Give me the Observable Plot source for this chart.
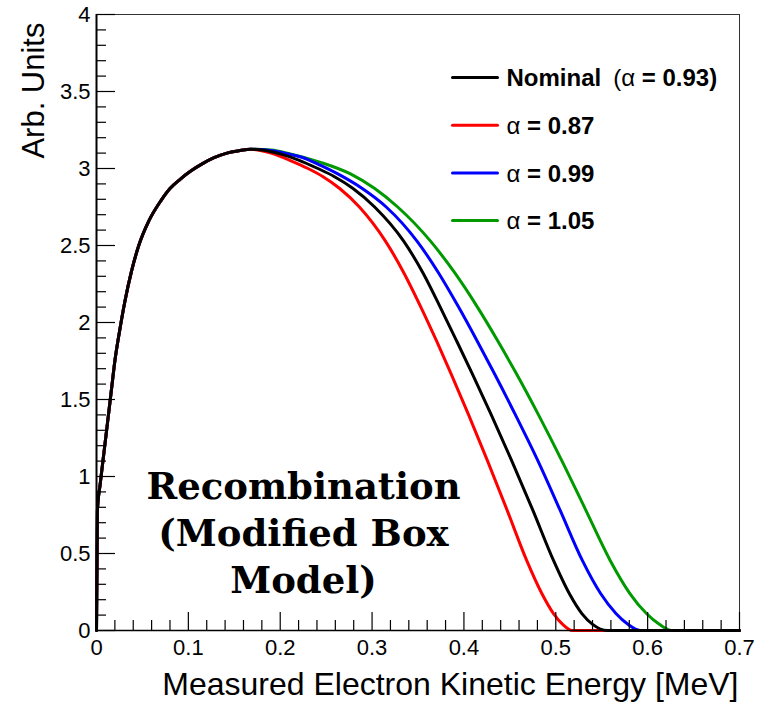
<!DOCTYPE html>
<html>
<head>
<meta charset="utf-8">
<script src="https://cdn.jsdelivr.net/npm/d3@7"></script>
<script src="https://cdn.jsdelivr.net/npm/@observablehq/plot@0.6"></script>
<style>
  html, body { margin: 0; padding: 0; background: #fff; }
  #chart { width: 762px; height: 703px; }
</style>
</head>
<body>
<div id="chart"></div>
<script>
// ---------------- data ----------------
// shared rising edge (all four curves coincide here)
const riseE = [0, 0.001, 0.004, 0.008, 0.012, 0.016, 0.020, 0.025, 0.031, 0.038, 0.046, 0.057, 0.070, 0.080, 0.091, 0.103, 0.115, 0.128, 0.142, 0.155, 0.168];
const riseY = [0, 0.78, 0.95, 1.15, 1.35, 1.55, 1.75, 1.94, 2.14, 2.33, 2.50, 2.66, 2.79, 2.87, 2.93, 2.985, 3.03, 3.07, 3.10, 3.115, 3.125];

// falling edges
const nominalE = [0.180, 0.200, 0.220, 0.241, 0.2582, 0.2793, 0.3028, 0.3342, 0.3556, 0.3742, 0.3921, 0.4089, 0.4298, 0.4522, 0.4751, 0.4975, 0.5147, 0.5284, 0.5401, 0.5561, 0.700];
const nominalY = [3.12, 3.095, 3.055, 3.00, 2.95, 2.87, 2.75, 2.53, 2.32, 2.10, 1.88, 1.67, 1.40, 1.10, 0.78, 0.455, 0.24, 0.11, 0.04, 0, 0];

const a087E = [0.190, 0.2117, 0.2302, 0.2458, 0.2648, 0.2862, 0.3144, 0.3348, 0.3531, 0.3702, 0.3858, 0.4051, 0.4258, 0.4471, 0.4683, 0.4848, 0.4975, 0.5075, 0.518, 0.700];
const a087Y = [3.10, 3.05, 3.00, 2.95, 2.87, 2.75, 2.53, 2.32, 2.10, 1.88, 1.67, 1.40, 1.10, 0.78, 0.455, 0.24, 0.11, 0.04, 0, 0];

const a099E = [0.185, 0.205, 0.225, 0.244, 0.2657, 0.2893, 0.3154, 0.3487, 0.3726, 0.3942, 0.4144, 0.433, 0.4561, 0.4807, 0.5048, 0.5289, 0.5488, 0.5655, 0.5785, 0.5918, 0.700];
const a099Y = [3.12, 3.10, 3.07, 3.02, 2.955, 2.87, 2.75, 2.53, 2.32, 2.10, 1.88, 1.67, 1.40, 1.10, 0.78, 0.455, 0.24, 0.11, 0.04, 0, 0];

const a105E = [0.190, 0.211, 0.244, 0.2765, 0.3029, 0.3279, 0.3634, 0.3903, 0.4147, 0.4369, 0.4569, 0.4812, 0.5068, 0.5328, 0.5592, 0.5807, 0.5987, 0.6127, 0.626, 0.700];
const a105Y = [3.12, 3.095, 3.04, 2.965, 2.87, 2.75, 2.53, 2.32, 2.10, 1.88, 1.67, 1.40, 1.10, 0.78, 0.455, 0.24, 0.11, 0.04, 0, 0];

const seriesKeys   = ["Nominal", "α = 0.87", "α = 0.99", "α = 1.05"];
const legendLabels = ["Nominal  (α = 0.93)", "α = 0.87", "α = 0.99", "α = 1.05"];
const seriesColors = ["#000000", "#ff0000", "#0000ff", "#009900"];

const xMajor = [0, 0.1, 0.2, 0.3, 0.4, 0.5, 0.6, 0.7];
const xMinor = [0.02, 0.04, 0.06, 0.08, 0.12, 0.14, 0.16, 0.18, 0.22, 0.24, 0.26, 0.28, 0.32, 0.34, 0.36, 0.38,
                0.42, 0.44, 0.46, 0.48, 0.52, 0.54, 0.56, 0.58, 0.62, 0.64, 0.66, 0.68];
const yMajor = [0, 0.5, 1, 1.5, 2, 2.5, 3, 3.5, 4];
const yMinor = [0.1, 0.2, 0.3, 0.4, 0.6, 0.7, 0.8, 0.9, 1.1, 1.2, 1.3, 1.4, 1.6, 1.7, 1.8, 1.9,
                2.1, 2.2, 2.3, 2.4, 2.6, 2.7, 2.8, 2.9, 3.1, 3.2, 3.3, 3.4, 3.6, 3.7, 3.8, 3.9];

const xTitle = "Measured Electron Kinetic Energy [MeV]";
const yTitle = "Arb. Units";
const noteLines = ["Recombination", "(Modified Box", "Model)"];

// ---------------- build table ----------------
const tails = {
  "Nominal":  [nominalE, nominalY],
  "α = 0.87": [a087E, a087Y],
  "α = 0.99": [a099E, a099Y],
  "α = 1.05": [a105E, a105Y]
};
const drawOrder = ["α = 1.05", "α = 0.99", "α = 0.87", "Nominal"];
const table = [];
for (const key of drawOrder) {
  riseE.forEach((e, i) => table.push({series: key, E: e, Y: riseY[i]}));
  const [te, ty] = tails[key];
  te.forEach((e, i) => table.push({series: key, E: e, Y: ty[i]}));
}
const legendRows = seriesKeys.map((k, i) => ({key: k, label: legendLabels[i], row: i}));

const lineShape = {draw(context, l) { context.moveTo(0, 0); context.lineTo(0, -l); }};
const fmt = d => `${d}`;

const chart = Plot.plot({
  width: 762,
  height: 703,
  marginLeft: 96,
  marginRight: 23,
  marginTop: 14,
  marginBottom: 73,
  x: {domain: [0, 0.7]},
  y: {domain: [0, 4]},
  color: {domain: seriesKeys, range: seriesColors},
  style: {fontFamily: "'Liberation Sans', Arial, Helvetica, sans-serif", background: "#fff", color: "#000", overflow: "visible"},
  marks: [
    Plot.frame({stroke: "#333", strokeWidth: 1}),
    Plot.line(table, {x: "E", y: "Y", z: "series", stroke: "series", strokeWidth: 3, curve: "monotone-x"}),
    Plot.ruleX([0], {stroke: "#000", strokeWidth: 2}),
    Plot.ruleY([0], {stroke: "#000", strokeWidth: 1.6}),
    Plot.axisX(xMajor, {tickSize: -18, fill: "none", label: null, strokeWidth: 1.2}),
    Plot.axisX(xMinor, {tickSize: -10, fill: "none", label: null, strokeWidth: 1.2}),
    Plot.axisX(xMajor, {tickSize: 0, tickPadding: 9, fontSize: 22, label: null, tickFormat: fmt}),
    Plot.axisY(yMajor, {tickSize: -19, fill: "none", label: null, strokeWidth: 1.2}),
    Plot.axisY(yMinor, {tickSize: -10, fill: "none", label: null, strokeWidth: 1.2}),
    Plot.axisY(yMajor, {tickSize: 0, tickPadding: 6, fontSize: 22, label: null, tickFormat: fmt}),
    Plot.text([xTitle], {frameAnchor: "bottom-right", textAnchor: "end", lineAnchor: "middle", dx: -1, dy: 54, fontSize: 32, fill: "#000"}),
    Plot.text([yTitle], {frameAnchor: "top-left", rotate: -90, textAnchor: "end", lineAnchor: "middle", dx: -62, dy: 8, fontSize: 31, fill: "#000"}),
    ...legendRows.map(r => Plot.vector([r], {
      frameAnchor: "top-left", dx: 356, dy: 63 + r.row * 47.7, rotate: 90, length: 45, anchor: "start",
      shape: lineShape, stroke: "key", strokeWidth: 3
    })),
    ...legendRows.map(r => Plot.text([r], {
      frameAnchor: "top-left", dx: 410, dy: 64 + r.row * 47.7, text: "label", textAnchor: "start",
      lineAnchor: "middle", fontSize: 24, fontWeight: "bold", fill: "#000"
    })),
    ...noteLines.map((s, i) => Plot.text([s], {
      frameAnchor: "top-left", dx: 207, dy: 472.5 + i * 47, textAnchor: "middle", lineAnchor: "middle",
      fontSize: 37, fontWeight: "bold", fontFamily: "'DejaVu Serif', serif", fill: "#000"
    }))
  ]
});

// legend: Greek alpha in regular weight, rest bold
const NS = "http://www.w3.org/2000/svg";
chart.querySelectorAll("text").forEach(t => {
  const s = t.textContent;
  const m = s.match(/^(.*?)\s*(\(?α)(.*)$/);
  if (!m) return;
  while (t.firstChild) t.removeChild(t.firstChild);
  t.setAttribute("style", "white-space: pre");
  if (m[1]) {
    const a = document.createElementNS(NS, "tspan");
    a.textContent = m[1];
    t.appendChild(a);
  }
  const b = document.createElementNS(NS, "tspan");
  b.textContent = m[2];
  b.setAttribute("font-weight", "normal");
  if (m[1]) b.setAttribute("dx", "12");
  t.appendChild(b);
  const c = document.createElementNS(NS, "tspan");
  c.textContent = m[3];
  t.appendChild(c);
});

document.getElementById("chart").appendChild(chart);
</script>
</body>
</html>
